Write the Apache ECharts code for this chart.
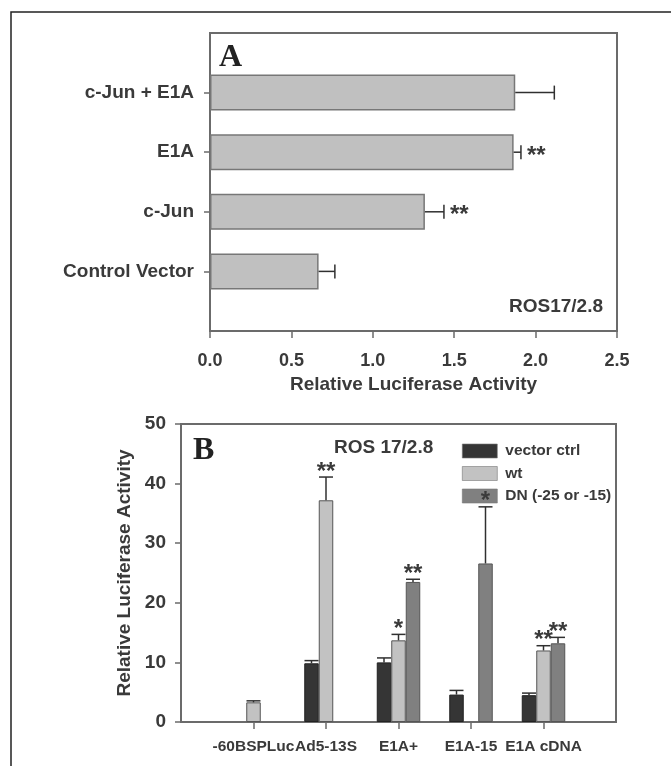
<!DOCTYPE html>
<html><head><meta charset="utf-8">
<script src="https://cdn.jsdelivr.net/npm/echarts@6/dist/echarts.min.js"></script>
<style>html,body{margin:0;padding:0;background:#fff}#c{width:671px;height:766px}</style>
</head><body><div id="c"></div>
<script>
// ---- Panel A data ----
const catsA = ['c-Jun + E1A', 'E1A', 'c-Jun', 'Control Vector'];
const valuesA = [1.875, 1.865, 1.32, 0.667];
const errA = [0.24, 0.045, 0.117, 0.1];
const sigA = ['', '**', '**', ''];
const ticksA = ['0.0', '0.5', '1.0', '1.5', '2.0', '2.5'];

// ---- Panel B data ----
const catsB = ['-60BSPLuc', 'Ad5-13S', 'E1A+', 'E1A-15', 'E1A cDNA'];
const namesB = ['vector ctrl', 'wt', 'DN (-25 or -15)'];
const vectorB = [null, 9.85, 10.0, 4.6, 4.5];
const vectorErrB = [null, 0.45, 0.75, 0.7, 0.35];
const vectorSigB = ['', '', '', '', ''];
const wtB = [3.3, 37.2, 13.7, null, 12.0];
const wtErrB = [0.25, 3.9, 1.0, null, 0.8];
const wtSigB = ['', '**', '*', '', '**'];
const dnB = [null, null, 23.5, 26.6, 13.2];
const dnErrB = [null, null, 0.45, 9.5, 1.0];
const dnSigB = ['', '', '**', '*', '**'];
const ticksB = ['0', '10', '20', '30', '40', '50'];

const FONT = '"Liberation Sans", Arial, Helvetica, sans-serif';
const SERIF = '"Liberation Serif", "Times New Roman", serif';
const TXT = '#3a3a3a';
const FRAME = '#6b6b6b';
const ERR = '#303030';
const BAR_W_B = 14.5;
const COLORS_B = ['#353535', '#c2c2c2', '#808080'];
const STAR_FONT = 'bold 24px ' + FONT;

const pad = a => ['', ...a, ''];
const realCat = (i, v) => v !== '';

const chart = echarts.init(document.getElementById('c'), null, {renderer: 'canvas'});

function errA_render(params, api) {
  const i = api.value(3);
  const v = api.value(0), c = api.value(1), e = api.value(2);
  const p0 = api.coord([v, c]);
  const p1 = api.coord([v + e, c]);
  const children = [
    {type: 'line', shape: {x1: p0[0], y1: p0[1], x2: p1[0], y2: p1[1]}, style: {stroke: ERR, lineWidth: 1.5}},
    {type: 'line', shape: {x1: p1[0], y1: p1[1] - 7, x2: p1[0], y2: p1[1] + 7}, style: {stroke: ERR, lineWidth: 1.5}}
  ];
  if (sigA[i]) {
    children.push({type: 'text', style: {text: sigA[i], x: p1[0] + 6, y: p1[1] + 4,
      font: STAR_FONT, fill: '#3a3a3a', align: 'left', verticalAlign: 'middle'}});
  }
  return {type: 'group', children};
}

function makeErrB(k, vals, errs, sigs) {
  const data = [];
  vals.forEach((v, i) => { if (v != null) data.push([i + 1, v, errs[i], i]); });
  return {
    type: 'custom', xAxisIndex: 1, yAxisIndex: 1, data, encode: {x: 0, y: 1}, z: 5,
    renderItem: (params, api) => {
      const i = api.value(3);
      const c = api.value(0), v = api.value(1), e = api.value(2);
      const off = (k - 1) * BAR_W_B;
      const p0 = api.coord([c, v]);
      const p1 = api.coord([c, v + e]);
      const x = p0[0] + off;
      const children = [
        {type: 'line', shape: {x1: x, y1: p0[1], x2: x, y2: p1[1]}, style: {stroke: ERR, lineWidth: 1.5}},
        {type: 'line', shape: {x1: x - 7, y1: p1[1], x2: x + 7, y2: p1[1]}, style: {stroke: ERR, lineWidth: 1.5}}
      ];
      if (sigs[i]) {
        children.push({type: 'text', style: {text: sigs[i], x: x, y: p1[1] - 5,
          font: STAR_FONT, fill: '#3a3a3a', align: 'center', verticalAlign: 'middle'}});
      }
      return {type: 'group', children};
    }
  };
}

const axisLine = {show: true, lineStyle: {color: FRAME, width: 2}};
const tickStyle = {color: FRAME, width: 1.5};

const option = {
  animation: false,
  backgroundColor: '#fff',
  grid: [
    {left: 210, top: 33, width: 407, height: 298, show: true, borderColor: FRAME, borderWidth: 2, containLabel: false},
    {left: 181, top: 424, width: 435, height: 298, show: true, borderColor: FRAME, borderWidth: 2, containLabel: false}
  ],
  legend: {
    data: namesB, orient: 'vertical', left: 457, top: 438,
    itemWidth: 35, itemHeight: 14, itemGap: 6.5, icon: 'rect',
    itemStyle: {borderWidth: 0.6, borderColor: '#777'},
    textStyle: {fontFamily: FONT, fontWeight: 'bold', fontSize: 15.5, color: TXT, lineHeight: 14, padding: [0, 0, 0, 3]},
    selectedMode: false
  },
  xAxis: [
    {
      gridIndex: 0, type: 'value', min: 0, max: 2.5, interval: 0.5,
      axisLine, axisTick: {show: true, length: 7, lineStyle: tickStyle}, splitLine: {show: false},
      axisLabel: {margin: 21, color: TXT, fontFamily: FONT, fontWeight: 'bold', fontSize: 18,
        formatter: v => ticksA[Math.round(v / 0.5)]},
      name: 'Relative Luciferase Activity', nameLocation: 'middle', nameGap: 44,
      nameTextStyle: {fontFamily: FONT, fontWeight: 'bold', fontSize: 19, color: TXT}
    },
    {
      gridIndex: 1, type: 'category', data: pad(catsB), boundaryGap: false,
      axisLine, axisTick: {show: true, length: 7, interval: realCat, lineStyle: tickStyle},
      axisLabel: {interval: 0, margin: 17, color: TXT, fontFamily: FONT, fontWeight: 'bold', fontSize: 15.5}
    }
  ],
  yAxis: [
    {
      gridIndex: 0, type: 'category', data: pad(catsA), inverse: true, boundaryGap: false,
      axisLine, axisTick: {show: true, length: 6, interval: realCat, lineStyle: tickStyle},
      axisLabel: {interval: 0, margin: 16, color: TXT, fontFamily: FONT, fontWeight: 'bold', fontSize: 19}
    },
    {
      gridIndex: 1, type: 'value', min: 0, max: 50, interval: 10,
      axisLine, axisTick: {show: true, length: 6, lineStyle: tickStyle}, splitLine: {show: false},
      axisLabel: {margin: 15, color: TXT, fontFamily: FONT, fontWeight: 'bold', fontSize: 19,
        formatter: v => ticksB[Math.round(v / 10)]},
      name: 'Relative Luciferase Activity', nameLocation: 'middle', nameGap: 43,
      nameTextStyle: {fontFamily: FONT, fontWeight: 'bold', fontSize: 19, color: TXT}
    }
  ],
  series: [
    {
      type: 'bar', xAxisIndex: 0, yAxisIndex: 0, data: [null, ...valuesA, null], barWidth: 36,
      itemStyle: {color: '#c0c0c0', borderColor: '#777', borderWidth: 1.5}
    },
    {
      type: 'custom', xAxisIndex: 0, yAxisIndex: 0, z: 5,
      data: valuesA.map((v, i) => [v, i + 1, errA[i], i]), encode: {x: 0, y: 1},
      renderItem: errA_render
    },
    {name: namesB[0], type: 'bar', xAxisIndex: 1, yAxisIndex: 1, data: [null, ...vectorB, null],
      barWidth: BAR_W_B, barGap: '0%', itemStyle: {color: COLORS_B[0], borderColor: '#222', borderWidth: 1}},
    {name: namesB[1], type: 'bar', xAxisIndex: 1, yAxisIndex: 1, data: [null, ...wtB, null],
      barWidth: BAR_W_B, barGap: '0%', itemStyle: {color: COLORS_B[1], borderColor: '#555', borderWidth: 1}},
    {name: namesB[2], type: 'bar', xAxisIndex: 1, yAxisIndex: 1, data: [null, ...dnB, null],
      barWidth: BAR_W_B, barGap: '0%', itemStyle: {color: COLORS_B[2], borderColor: '#555', borderWidth: 1}},
    makeErrB(0, vectorB, vectorErrB, vectorSigB),
    makeErrB(1, wtB, wtErrB, wtSigB),
    makeErrB(2, dnB, dnErrB, dnSigB)
  ],
  graphic: [
    {type: 'rect', shape: {x: 11, y: 12, width: 700, height: 800}, style: {fill: 'none', stroke: '#222', lineWidth: 1.5}, silent: true},
    {type: 'text', style: {text: 'A', x: 219, y: 57.5, font: 'bold 32px ' + SERIF, fill: '#222', align: 'left', verticalAlign: 'middle'}},
    {type: 'text', style: {text: 'B', x: 193, y: 450.5, font: 'bold 32px ' + SERIF, fill: '#222', align: 'left', verticalAlign: 'middle'}},
    {type: 'text', style: {text: 'ROS17/2.8', x: 603, y: 307, font: 'bold 19px ' + FONT, fill: TXT, align: 'right', verticalAlign: 'middle'}},
    {type: 'text', style: {text: 'ROS 17/2.8', x: 334, y: 448, font: 'bold 19px ' + FONT, fill: TXT, align: 'left', verticalAlign: 'middle'}}
  ]
};
chart.setOption(option);
</script>
</body></html>
